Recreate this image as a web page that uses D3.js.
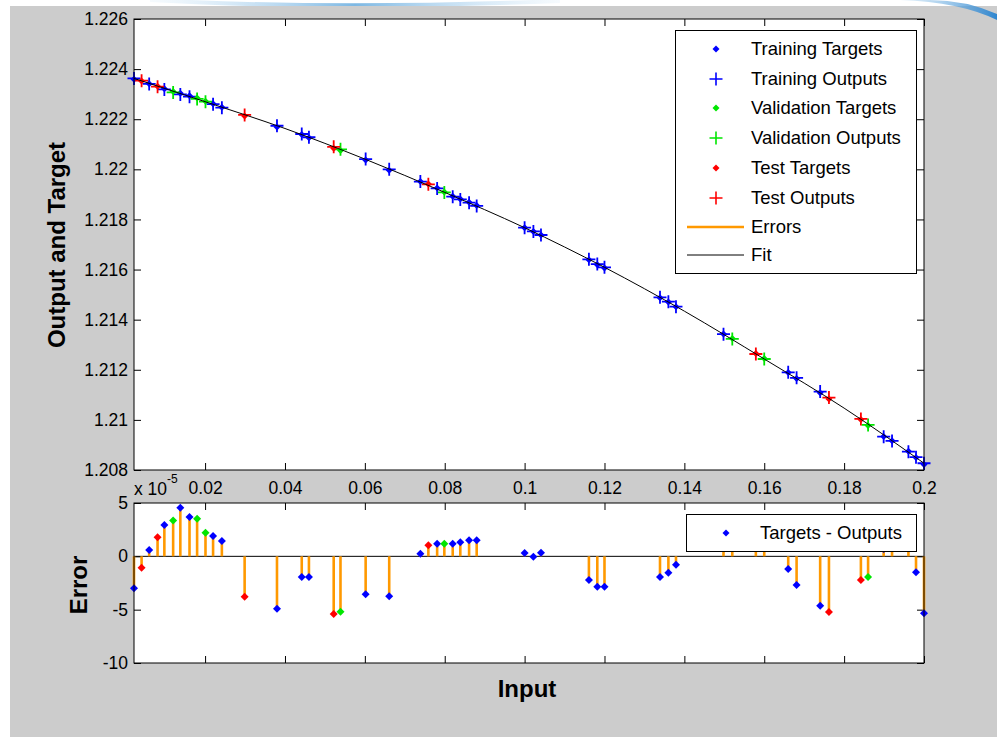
<!DOCTYPE html>
<html><head><meta charset="utf-8">
<script src="https://cdn.jsdelivr.net/npm/d3@7"></script>
<style>
body{margin:0;background:#fff;}
svg{display:block;font-family:"Liberation Sans",Arial,Helvetica,sans-serif;}
</style>
</head><body>
<svg id="c" width="997" height="737"></svg>
<script>
// ---------------- DATA ----------------
const inputs = [0.0022,0.0041,0.0060,0.0081,0.0098,0.0120,0.0138,0.0161,0.0180,0.0201,0.0220,0.0242,
  0.0299,0.0380,0.0442,0.0460,0.0522,0.0539,0.0602,0.0661,0.0739,0.0759,0.0781,0.0799,0.0820,0.0839,
  0.0861,0.0880,0.1000,0.1022,0.1041,0.1161,0.1182,0.1200,0.1339,0.1360,0.1379,0.1498,0.1520,0.1579,
  0.1600,0.1660,0.1681,0.1740,0.1762,0.1842,0.1860,0.1899,0.1920,0.1961,0.1980,0.2000];
const subsets = ["train","test","train","test","train","val","train","train","val","val","train","train",
  "test","train","train","train","test","val","train","train","train","test","train","val","train","train",
  "train","train","train","train","train","train","train","train","train","train","train","train","val","test",
  "val","train","train","train","test","test","val","train","train","train","train","train"];
const outputs = [1.22363,1.22354,1.22341,1.22330,1.22319,1.22307,1.22299,1.22290,1.22281,1.22270,1.22260,1.22246,
  1.22217,1.22174,1.22141,1.22128,1.22090,1.22080,1.22041,1.22000,1.21951,1.21940,1.21924,1.21908,1.21891,1.21880,
  1.21867,1.21854,1.21767,1.21752,1.21738,1.21641,1.21622,1.21609,1.21489,1.21472,1.21452,1.21342,1.21323,1.21263,
  1.21243,1.21190,1.21168,1.21113,1.21089,1.21004,1.20980,1.20933,1.20916,1.20873,1.20851,1.20827];
// errors (targets - outputs) in units of 1e-5
const errorsE5 = [-3.0,-1.07,0.59,1.78,2.93,3.37,4.56,3.68,3.53,2.21,1.90,1.43,
  -3.79,-4.91,-1.94,-1.94,-5.41,-5.19,-3.56,-3.75,0.25,1.03,1.18,1.18,1.18,1.31,
  1.5,1.5,0.31,-0.05,0.34,-2.22,-2.85,-2.85,-1.94,-1.53,-0.78,1.2,1.5,2.0,
  2.0,-1.19,-2.69,-4.63,-5.22,-2.22,-1.94,0.68,1.2,1.5,-1.5,-5.34];
const fitX = [0.0022,0.02,0.04,0.06,0.08,0.10,0.12,0.14,0.16,0.18,0.20];
const fitY = [1.22363,1.22270,1.22163,1.22041,1.21908,1.21767,1.21609,1.21434,1.21243,1.21047,1.20827];

const xTicks = [0.02,0.04,0.06,0.08,0.1,0.12,0.14,0.16,0.18,0.2];
const xTickLabels = ["0.02","0.04","0.06","0.08","0.1","0.12","0.14","0.16","0.18","0.2"];
const yTicks = [1.208,1.21,1.212,1.214,1.216,1.218,1.22,1.222,1.224,1.226];
const yTickLabels = ["1.208","1.21","1.212","1.214","1.216","1.218","1.22","1.222","1.224","1.226"];
const eTicks = [-10,-5,0,5];
const eTickLabels = ["-10","-5","0","5"];

const legendLabels = ["Training Targets","Training Outputs","Validation Targets","Validation Outputs",
  "Test Targets","Test Outputs","Errors","Fit"];

const colors = {train:"#0000ff", val:"#00e600", test:"#ff0000"};
const errColor = "#ff9900";

// ---------------- LAYOUT ----------------
const svg = d3.select("#c");
const FS = 17.5;
const LFS = 18.5;
const L = 134, R = 924;
const T1 = 19, B1 = 470;
const T2 = 503, B2 = 663;

svg.append("rect").attr("x",0).attr("y",0).attr("width",997).attr("height",737).attr("fill","#fff");
const defs = svg.append("defs");
const g1 = defs.append("linearGradient").attr("id","sw1").attr("x1","0").attr("x2","1");
g1.append("stop").attr("offset","0").attr("stop-color","#cfe6f7").attr("stop-opacity",0.2);
g1.append("stop").attr("offset","0.5").attr("stop-color","#6fb0e0").attr("stop-opacity",0.9);
g1.append("stop").attr("offset","1").attr("stop-color","#cfe6f7").attr("stop-opacity",0.2);
svg.append("path").attr("d","M150,0 Q330,10 560,1").attr("fill","none").attr("stroke","url(#sw1)").attr("stroke-width",4);
svg.append("rect").attr("x",10).attr("y",6).attr("width",987).attr("height",731).attr("fill","#cccccc");
const g2 = defs.append("linearGradient").attr("id","sw2").attr("x1","0").attr("x2","1");
g2.append("stop").attr("offset","0").attr("stop-color","#a8d2f0").attr("stop-opacity",0.3);
g2.append("stop").attr("offset","1").attr("stop-color","#2f86cf").attr("stop-opacity",1);
svg.append("path").attr("d","M900,0 Q960,2 997,20 L997,14 Q965,0 930,0 Z").attr("fill","url(#sw2)");

const x = d3.scaleLinear().domain([inputs[0], 0.2]).range([L, R]);
const y = d3.scaleLinear().domain([1.208, 1.226]).range([B1, T1]);
const ye = d3.scaleLinear().domain([-10, 5]).range([B2, T2]);

function styleAxis(g){
  g.select(".domain").remove();
  g.selectAll(".tick line").attr("stroke","#000").attr("stroke-width",1);
  g.selectAll(".tick text").attr("fill","#000").attr("font-size",FS).attr("font-family","'Liberation Sans',Arial,sans-serif");
}

// ---------- top axes ----------
svg.append("rect").attr("x",L).attr("y",T1).attr("width",R-L).attr("height",B1-T1).attr("fill","#fff");
const topClip = defs.append("clipPath").attr("id","clipTop");
topClip.append("rect").attr("x",L-7).attr("y",T1-7).attr("width",R-L+14).attr("height",B1-T1+14);

svg.append("g").attr("transform",`translate(${L},0)`)
  .call(d3.axisLeft(y).tickValues(yTicks).tickFormat((d,i)=>yTickLabels[i]).tickSizeInner(-7).tickSizeOuter(0).tickPadding(6))
  .call(styleAxis);
svg.append("g").attr("transform",`translate(${R},0)`)
  .call(d3.axisRight(y).tickValues(yTicks).tickFormat("").tickSizeInner(-7).tickSizeOuter(0))
  .call(styleAxis);
svg.append("g").attr("transform",`translate(0,${T1})`)
  .call(d3.axisTop(x).tickValues(xTicks).tickFormat("").tickSizeInner(-7).tickSizeOuter(0))
  .call(styleAxis);
svg.append("g").attr("transform",`translate(0,${B1})`)
  .call(d3.axisBottom(x).tickValues(xTicks).tickFormat((d,i)=>xTickLabels[i]).tickSizeInner(-7).tickSizeOuter(0).tickPadding(12))
  .call(styleAxis);

const topG = svg.append("g").attr("clip-path","url(#clipTop)");
const pts = inputs.map((v,i)=>({x:v, set:subsets[i], out:outputs[i], e:errorsE5[i], tgt: outputs[i] + errorsE5[i]*1e-5}));

topG.selectAll("line.err").data(pts).enter().append("line")
  .attr("x1",d=>x(d.x)).attr("x2",d=>x(d.x)).attr("y1",d=>y(d.tgt)).attr("y2",d=>y(d.out))
  .attr("stroke",errColor).attr("stroke-width",2);

const diamond = r => `M0,${-r}L${r},0L0,${r}L${-r},0Z`;
const plus = r => `M${-r},0H${r}M0,${-r}V${r}`;

["train","val","test"].forEach(s=>{
  const sub = pts.filter(d=>d.set===s);
  topG.selectAll(null).data(sub).enter().append("path")
    .attr("transform",d=>`translate(${x(d.x)},${y(d.tgt)})`).attr("d",diamond(3.5)).attr("fill",colors[s]);
  topG.selectAll(null).data(sub).enter().append("path")
    .attr("transform",d=>`translate(${x(d.x)},${y(d.out)})`).attr("d",plus(6.5)).attr("stroke",colors[s]).attr("stroke-width",1.8).attr("fill","none");
});

topG.append("path").datum(fitX.map((v,i)=>[v,fitY[i]]))
  .attr("d",d3.line().x(d=>x(d[0])).y(d=>y(d[1])).curve(d3.curveMonotoneX))
  .attr("fill","none").attr("stroke","#000").attr("stroke-width",1);

svg.append("rect").attr("x",L).attr("y",T1).attr("width",R-L).attr("height",B1-T1).attr("fill","none").attr("stroke","#000").attr("stroke-width",1);

// legend top
const lg = svg.append("g");
lg.append("rect").attr("x",675.5).attr("y",30.5).attr("width",241).attr("height",243).attr("fill","#fff").attr("stroke","#000").attr("stroke-width",1);
const rowY = [49,79,108,138,168,198,227,255];
const legendKinds = [["dot","train"],["plus","train"],["dot","val"],["plus","val"],["dot","test"],["plus","test"],["err"],["fit"]];
legendKinds.forEach((k,i)=>{
  const yy = rowY[i];
  if(k[0]==="dot") lg.append("path").attr("transform",`translate(716,${yy})`).attr("d",diamond(3.5)).attr("fill",colors[k[1]]);
  else if(k[0]==="plus") lg.append("path").attr("transform",`translate(716,${yy})`).attr("d",plus(6.5)).attr("stroke",colors[k[1]]).attr("stroke-width",1.6);
  else if(k[0]==="err") lg.append("line").attr("x1",687).attr("x2",744).attr("y1",yy).attr("y2",yy).attr("stroke",errColor).attr("stroke-width",2.5);
  else lg.append("line").attr("x1",687).attr("x2",744).attr("y1",yy).attr("y2",yy).attr("stroke","#000").attr("stroke-width",1);
  lg.append("text").attr("x",751).attr("y",yy).attr("dy","0.35em").attr("font-size",LFS).attr("fill","#000").text(legendLabels[i]);
});

// ---------- error axes ----------
svg.append("rect").attr("x",L).attr("y",T2).attr("width",R-L).attr("height",B2-T2).attr("fill","#fff");
svg.append("g").attr("transform",`translate(${L},0)`)
  .call(d3.axisLeft(ye).tickValues(eTicks).tickFormat((d,i)=>eTickLabels[i]).tickSizeInner(-7).tickSizeOuter(0).tickPadding(6))
  .call(styleAxis);
svg.append("g").attr("transform",`translate(${R},0)`)
  .call(d3.axisRight(ye).tickValues(eTicks).tickFormat("").tickSizeInner(-7).tickSizeOuter(0))
  .call(styleAxis);
svg.append("g").attr("transform",`translate(0,${T2})`)
  .call(d3.axisTop(x).tickValues(xTicks).tickFormat("").tickSizeInner(-7).tickSizeOuter(0))
  .call(styleAxis);
svg.append("g").attr("transform",`translate(0,${B2})`)
  .call(d3.axisBottom(x).tickValues(xTicks).tickFormat("").tickSizeInner(-7).tickSizeOuter(0))
  .call(styleAxis);

const eg = svg.append("g");
eg.append("line").attr("x1",L).attr("x2",R).attr("y1",ye(0)).attr("y2",ye(0)).attr("stroke","#000").attr("stroke-width",1);
eg.selectAll(null).data(pts).enter().append("line")
  .attr("x1",d=>x(d.x)).attr("x2",d=>x(d.x)).attr("y1",ye(0)).attr("y2",d=>ye(d.e))
  .attr("stroke",errColor).attr("stroke-width",2.6);
eg.selectAll(null).data(pts).enter().append("path")
  .attr("transform",d=>`translate(${x(d.x)},${ye(d.e)})`).attr("d",diamond(4)).attr("fill",d=>colors[d.set]);

svg.append("rect").attr("x",L).attr("y",T2).attr("width",R-L).attr("height",B2-T2).attr("fill","none").attr("stroke","#000").attr("stroke-width",1);

// error legend
svg.append("rect").attr("x",686.5).attr("y",514.5).attr("width",230).attr("height",37).attr("fill","#fff").attr("stroke","#000").attr("stroke-width",1);
svg.append("path").attr("transform","translate(726,533)").attr("d",diamond(3.5)).attr("fill",colors.train);
svg.append("text").attr("x",760).attr("y",533).attr("dy","0.35em").attr("font-size",LFS).attr("fill","#000").text("Targets - Outputs");

// exponent label
const ex = svg.append("text").attr("x",134).attr("y",495).attr("font-size",FS).attr("fill","#000");
ex.append("tspan").text("x 10");
ex.append("tspan").attr("font-size",12).attr("dy",-12).text("-5");

// axis titles
svg.append("text").attr("transform","translate(65,245) rotate(-90)").attr("text-anchor","middle")
  .attr("font-size",24).attr("font-weight","bold").attr("fill","#000").text("Output and Target");
svg.append("text").attr("transform","translate(87,585) rotate(-90)").attr("text-anchor","middle")
  .attr("font-size",24).attr("font-weight","bold").attr("fill","#000").text("Error");
svg.append("text").attr("x",527).attr("y",697).attr("text-anchor","middle")
  .attr("font-size",24).attr("font-weight","bold").attr("fill","#000").text("Input");
</script>
</body></html>
